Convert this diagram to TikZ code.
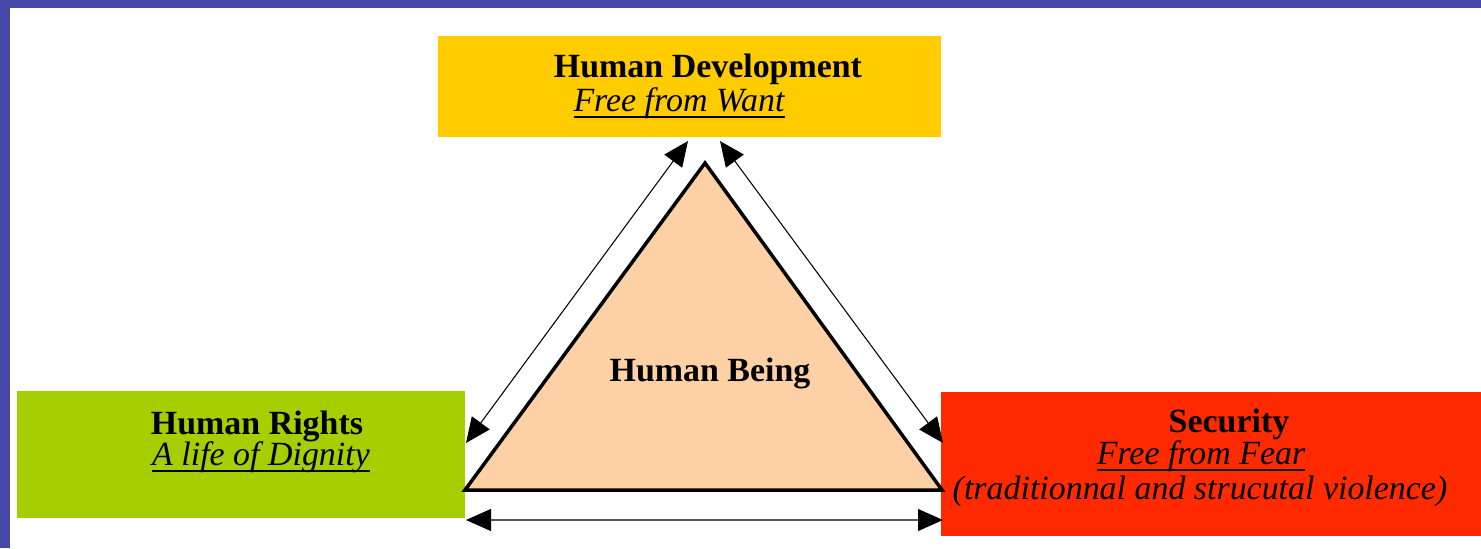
\documentclass[tikz,border=0pt]{standalone}
\usepackage{fontspec}
\setmainfont{Liberation Serif}
\usetikzlibrary{arrows.meta}
\definecolor{framepurple}{RGB}{69,71,169}
\definecolor{devyellow}{RGB}{255,204,0}
\definecolor{rightsgreen}{RGB}{166,206,0}
\definecolor{securityred}{RGB}{255,42,0}
\definecolor{beingpeach}{RGB}{253,209,165}
\newcommand{\ulined}[1]{\setbox0\hbox{#1}\rlap{\rule[-0.2em]{\wd0}{0.055em}}\box0}
\tikzset{
    areabox/.style={inner sep=0pt,outer sep=0pt},
    headtext/.style={anchor=base,inner sep=0pt,font=\fontsize{19.3}{23}\selectfont\bfseries},
    subtext/.style={anchor=base,inner sep=0pt,font=\fontsize{19.3}{23}\selectfont\itshape},
    linkarrow/.style={{Triangle[length=0.5cm,width=0.44cm]}-{Triangle[length=0.5cm,width=0.44cm]},line width=0.6pt}
}
\begin{document}
\begin{tikzpicture}
    % Page and frame
    \useasboundingbox (0,0) rectangle (29.62,10.96);
    \fill[white] (0,0) rectangle (29.62,10.96);
    \fill[framepurple] (0,10.80) rectangle (29.62,10.96);
    \fill[framepurple] (0,0) rectangle (0.2,10.96);

    % Three areas
    \node[areabox,fill=devyellow,minimum width=10.06cm,minimum height=2.02cm] (hdev) at (13.79,9.23) {};
    \node[headtext] (hdevtitle) at (14.16,9.40) {Human Development};
    \node[subtext] (hdevsub) at (13.58,8.74) {\ulined{Free from Want}};

    \node[areabox,fill=rightsgreen,minimum width=8.96cm,minimum height=2.54cm] (hrights) at (4.82,1.87) {};
    \node[headtext] (hrightstitle) at (5.14,2.28) {Human Rights};
    \node[subtext] (hrightssub) at (5.22,1.66) {\ulined{A life of Dignity}};

    \node[areabox,fill=securityred,minimum width=10.8cm,minimum height=2.88cm] (security) at (24.22,1.68) {};
    \node[headtext] (securitytitle) at (24.58,2.32) {Security};
    \node[subtext] (securitysub) at (24.02,1.67) {\ulined{Free from Fear}};
    \node[subtext] (securitynote) at (24.00,0.98) {(traditionnal and strucutal violence)};

    % Triangle
    \coordinate (apex) at (14.10,7.70);
    \coordinate (baseL) at (9.30,1.16);
    \coordinate (baseR) at (18.84,1.16);
    \draw[line width=0.07cm,fill=beingpeach] (apex) -- (baseL) -- (baseR) -- cycle;
    \node[headtext] (being) at (14.20,3.34) {Human Being};

    % Arrows
    \coordinate (devL) at ([xshift=-0.03cm,yshift=-0.08cm]hdev.south);
    \coordinate (devR) at ([xshift=0.61cm,yshift=-0.08cm]hdev.south);
    \coordinate (rightsT) at ([xshift=0.02cm,yshift=0.23cm]hrights.east);
    \coordinate (rightsB) at ([xshift=0.02cm,yshift=-1.31cm]hrights.east);
    \coordinate (securityT) at ([xshift=0.04cm,yshift=0.42cm]security.west);
    \coordinate (securityB) at ([xshift=0.04cm,yshift=-1.12cm]security.west);
    \draw[linkarrow] (devL) -- (rightsT);
    \draw[linkarrow] (devR) -- (securityT);
    \draw[linkarrow] (rightsB) -- (securityB);
\end{tikzpicture}
\end{document}
